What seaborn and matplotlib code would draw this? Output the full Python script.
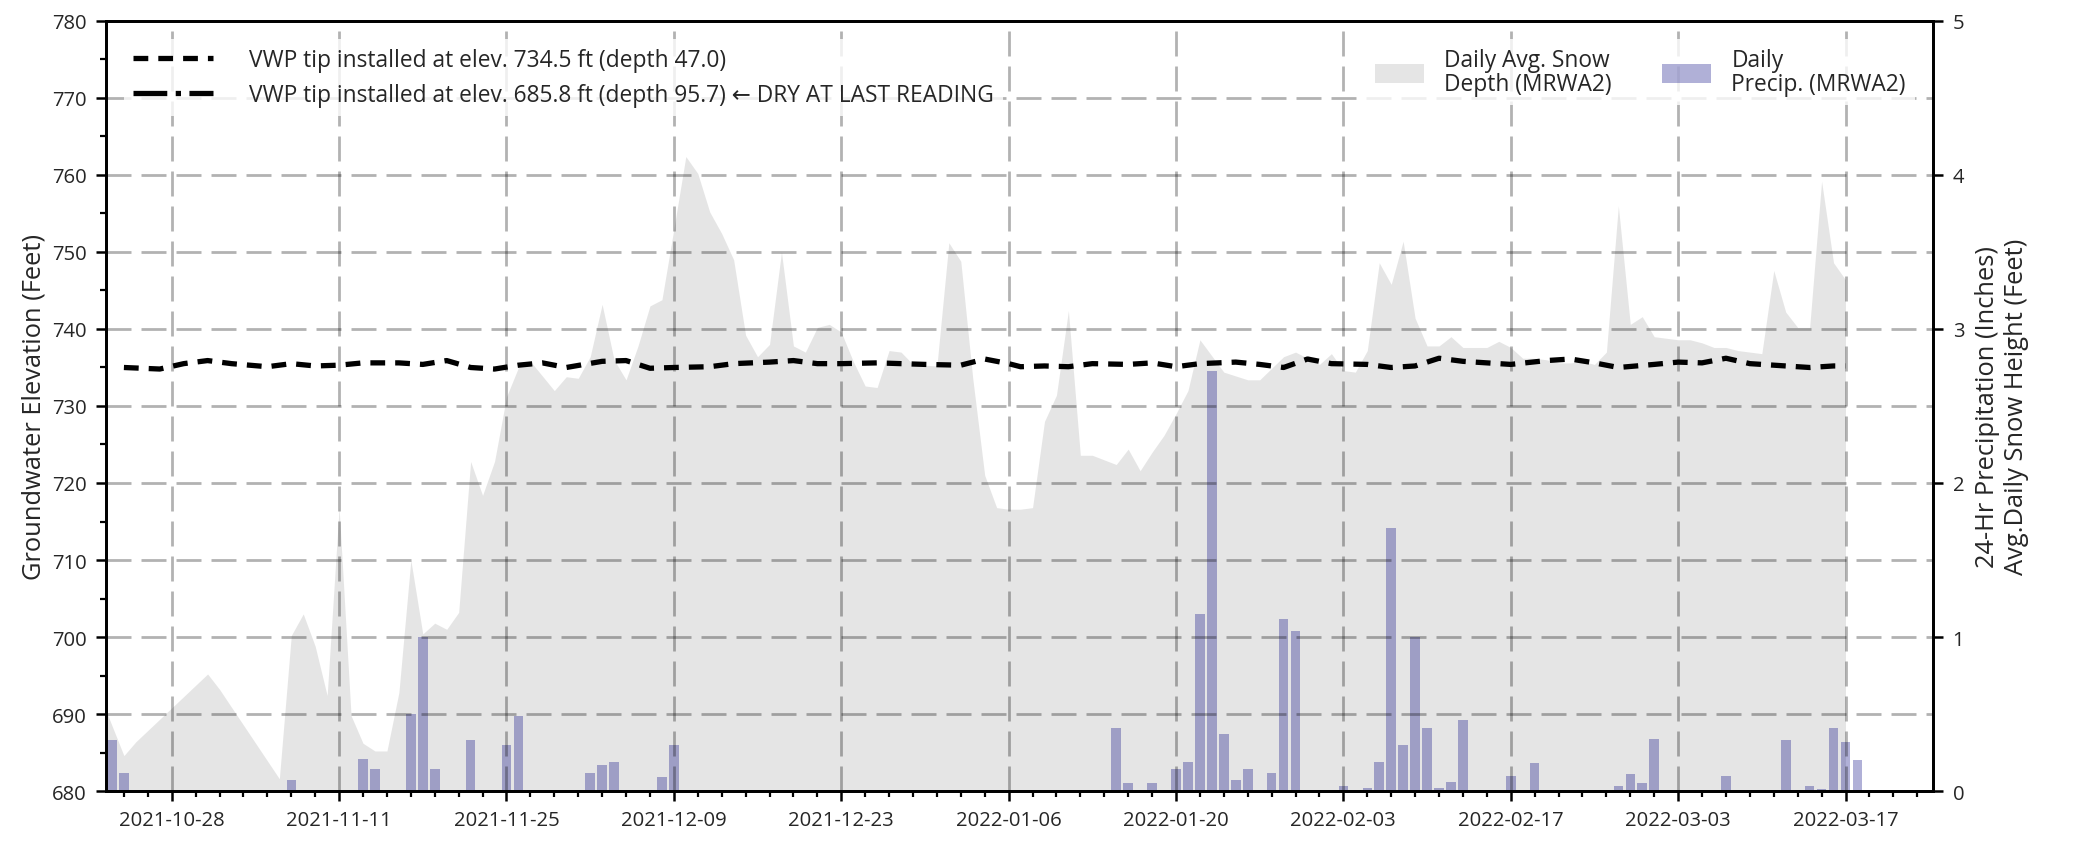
import numpy as np
import pandas as pd
import seaborn as sns
import matplotlib.pyplot as plt
import matplotlib.dates as mdates
from matplotlib.lines import Line2D
from matplotlib.patches import Patch

sns.set_style('ticks')
plt.rcParams['font.family'] = ['Open Sans', 'DejaVu Sans']

# groundwater elevation of the VWP tip at 734.5 ft
gw_dates = ['2021-10-24', '2021-10-27', '2021-10-29', '2021-10-31', '2021-11-02', '2021-11-05',
            '2021-11-07', '2021-11-09', '2021-11-11', '2021-11-13', '2021-11-16', '2021-11-18',
            '2021-11-20', '2021-11-22', '2021-11-24', '2021-11-26', '2021-11-28', '2021-11-30',
            '2021-12-03', '2021-12-05', '2021-12-07', '2021-12-09', '2021-12-12', '2021-12-14',
            '2021-12-17', '2021-12-19', '2021-12-21', '2021-12-23', '2021-12-26', '2021-12-28',
            '2021-12-30', '2022-01-02', '2022-01-04', '2022-01-06', '2022-01-07', '2022-01-09',
            '2022-01-11', '2022-01-13', '2022-01-16', '2022-01-18', '2022-01-20', '2022-01-22',
            '2022-01-25', '2022-01-27', '2022-01-29', '2022-01-31', '2022-02-02', '2022-02-05',
            '2022-02-07', '2022-02-09', '2022-02-11', '2022-02-13', '2022-02-15', '2022-02-17',
            '2022-02-20', '2022-02-22', '2022-02-24', '2022-02-26', '2022-03-01', '2022-03-03',
            '2022-03-05', '2022-03-07', '2022-03-09', '2022-03-11', '2022-03-14', '2022-03-16',
            '2022-03-17']
gw_elev = [735.0, 734.8, 735.5, 735.9, 735.5, 735.1,
           735.5, 735.2, 735.3, 735.6, 735.6, 735.4,
           735.9, 735.0, 734.8, 735.3, 735.6, 735.0,
           735.8, 735.9, 734.9, 735.0, 735.1, 735.5,
           735.7, 735.9, 735.5, 735.5, 735.6, 735.5,
           735.4, 735.3, 736.1, 735.5, 735.1, 735.2,
           735.1, 735.5, 735.4, 735.6, 735.1, 735.5,
           735.7, 735.4, 735.0, 736.1, 735.5, 735.4,
           735.0, 735.2, 736.2, 735.8, 735.6, 735.4,
           735.9, 736.1, 735.6, 735.0, 735.4, 735.7,
           735.6, 736.2, 735.5, 735.3, 735.0, 735.2,
           735.2]

# daily average snow depth, feet (right axis)
snow_dates = ['2021-10-22', '2021-10-24', '2021-10-25', '2021-10-31', '2021-11-01', '2021-11-06',
              '2021-11-07', '2021-11-08', '2021-11-09', '2021-11-10', '2021-11-11', '2021-11-12',
              '2021-11-13', '2021-11-14', '2021-11-15', '2021-11-16', '2021-11-17', '2021-11-18',
              '2021-11-19', '2021-11-20', '2021-11-21', '2021-11-22', '2021-11-23', '2021-11-24',
              '2021-11-25', '2021-11-26', '2021-11-27', '2021-11-29', '2021-11-30', '2021-12-01',
              '2021-12-02', '2021-12-03', '2021-12-04', '2021-12-05', '2021-12-06', '2021-12-07',
              '2021-12-08', '2021-12-09', '2021-12-10', '2021-12-11', '2021-12-12', '2021-12-13',
              '2021-12-14', '2021-12-15', '2021-12-16', '2021-12-17', '2021-12-18', '2021-12-19',
              '2021-12-20', '2021-12-21', '2021-12-22', '2021-12-23', '2021-12-24', '2021-12-25',
              '2021-12-26', '2021-12-27', '2021-12-28', '2021-12-29', '2021-12-31', '2022-01-01',
              '2022-01-02', '2022-01-03', '2022-01-04', '2022-01-05', '2022-01-06', '2022-01-07',
              '2022-01-08', '2022-01-09', '2022-01-10', '2022-01-11', '2022-01-12', '2022-01-13',
              '2022-01-14', '2022-01-15', '2022-01-16', '2022-01-17', '2022-01-18', '2022-01-19',
              '2022-01-20', '2022-01-21', '2022-01-22', '2022-01-24', '2022-01-26', '2022-01-27',
              '2022-01-29', '2022-01-30', '2022-02-01', '2022-02-02', '2022-02-03', '2022-02-04',
              '2022-02-05', '2022-02-06', '2022-02-07', '2022-02-08', '2022-02-09', '2022-02-10',
              '2022-02-11', '2022-02-12', '2022-02-13', '2022-02-14', '2022-02-15', '2022-02-16',
              '2022-02-17', '2022-02-18', '2022-02-19', '2022-02-20', '2022-02-21', '2022-02-22',
              '2022-02-23', '2022-02-24', '2022-02-25', '2022-02-26', '2022-02-27', '2022-02-28',
              '2022-03-01', '2022-03-02', '2022-03-03', '2022-03-04', '2022-03-05', '2022-03-06',
              '2022-03-07', '2022-03-08', '2022-03-09', '2022-03-10', '2022-03-11', '2022-03-12',
              '2022-03-13', '2022-03-14', '2022-03-15', '2022-03-16', '2022-03-17']
snow_depth = [0.62, 0.23, 0.32, 0.76, 0.66, 0.08,
              1.01, 1.15, 0.94, 0.62, 1.84, 0.49,
              0.31, 0.26, 0.26, 0.64, 1.50, 1.02,
              1.09, 1.05, 1.16, 2.14, 1.92, 2.14,
              2.56, 2.75, 2.79, 2.60, 2.69, 2.68,
              2.82, 3.16, 2.80, 2.67, 2.89, 3.15,
              3.19, 3.65, 4.12, 4.01, 3.76, 3.62,
              3.45, 2.96, 2.82, 2.90, 3.50, 2.89,
              2.85, 3.01, 3.03, 2.98, 2.79, 2.63,
              2.62, 2.86, 2.85, 2.77, 2.76, 3.56,
              3.44, 2.68, 2.05, 1.84, 1.83, 1.83,
              1.84, 2.40, 2.57, 3.12, 2.18, 2.18,
              2.15, 2.12, 2.22, 2.08, 2.20, 2.31,
              2.45, 2.60, 2.93, 2.72, 2.67, 2.67,
              2.82, 2.85, 2.77, 2.84, 2.73, 2.72,
              2.86, 3.43, 3.29, 3.57, 3.07, 2.89,
              2.89, 2.95, 2.88, 2.88, 2.88, 2.92,
              2.88, 2.81, 2.81, 2.80, 2.78, 2.78,
              2.79, 2.77, 2.85, 3.80, 3.03, 3.08,
              2.95, 2.94, 2.93, 2.93, 2.91, 2.88,
              2.88, 2.86, 2.85, 2.84, 3.38, 3.11,
              3.01, 3.01, 3.96, 3.43, 3.32]

# 24-hr precipitation, inches (right axis)
precip_dates = ['2021-10-23', '2021-10-24', '2021-11-07', '2021-11-13', '2021-11-14', '2021-11-17',
                '2021-11-18', '2021-11-19', '2021-11-22', '2021-11-25', '2021-11-26', '2021-12-02',
                '2021-12-03', '2021-12-04', '2021-12-08', '2021-12-09', '2022-01-15', '2022-01-16',
                '2022-01-18', '2022-01-20', '2022-01-21', '2022-01-22', '2022-01-23', '2022-01-24',
                '2022-01-25', '2022-01-26', '2022-01-28', '2022-01-29', '2022-01-30', '2022-02-03',
                '2022-02-05', '2022-02-06', '2022-02-07', '2022-02-08', '2022-02-09', '2022-02-10',
                '2022-02-11', '2022-02-12', '2022-02-13', '2022-02-17', '2022-02-19', '2022-02-26',
                '2022-02-27', '2022-02-28', '2022-03-01', '2022-03-07', '2022-03-12', '2022-03-14',
                '2022-03-15', '2022-03-16', '2022-03-17', '2022-03-18']
precip_in = [0.33, 0.12, 0.07, 0.21, 0.14, 0.50,
             1.00, 0.14, 0.33, 0.30, 0.49, 0.12,
             0.17, 0.19, 0.09, 0.30, 0.41, 0.05,
             0.05, 0.14, 0.19, 1.15, 2.73, 0.37,
             0.07, 0.14, 0.12, 1.12, 1.04, 0.03,
             0.02, 0.19, 1.71, 0.30, 1.00, 0.41,
             0.02, 0.06, 0.46, 0.10, 0.18, 0.03,
             0.11, 0.05, 0.34, 0.10, 0.33, 0.03,
             0.01, 0.41, 0.32, 0.20]

gw = pd.DataFrame({'date': pd.to_datetime(gw_dates), 'elev': gw_elev})
snow = pd.DataFrame({'date': pd.to_datetime(snow_dates), 'depth': snow_depth})
precip = pd.DataFrame({'date': pd.to_datetime(precip_dates), 'inches': precip_in})

fs = 7.3       # tick labels
lfs = 8.2      # legend text
gw_dash = (2.8, 1.9)

fig = plt.figure(figsize=(10.37, 4.225), dpi=200)
ax1 = fig.add_axes([0.0511, 0.0627, 0.8810, 0.9113])
ax2 = ax1.twinx()
ax1.set_zorder(ax2.get_zorder() + 1)
ax1.patch.set_visible(False)

# snow + precip on the right axis
ax2.fill_between(snow['date'], snow['depth'], 0, color='grey', alpha=0.2, lw=0)
ax2.bar(precip['date'], precip['inches'], width=0.8, color='navy', alpha=0.31, lw=0)
ax2.set_ylim(0, 5)
ax2.set_yticks(range(0, 6))
ax2.set_ylabel('24-Hr Precipitation (Inches)\nAvg.Daily Snow Height (Feet)', fontsize=9.2, labelpad=4)

# groundwater on the left axis
sns.lineplot(data=gw, x='date', y='elev', ax=ax1, color='black', lw=1.9)
ax1.lines[-1].set_dashes(gw_dash)
ax1.set_ylim(680, 780)
ax1.set_yticks(np.arange(680, 781, 10))
ax1.set_yticks(np.arange(685, 780, 10), minor=True)
ax1.set_xlim(pd.Timestamp('2021-10-22 12:00'), pd.Timestamp('2022-03-24 08:00'))
ax1.set_xticks(pd.date_range('2021-10-28', '2022-03-17', freq='14D'))
ax1.set_xticks(pd.date_range('2021-10-24', '2022-03-24', freq='2D'), minor=True)
ax1.xaxis.set_major_formatter(mdates.DateFormatter('%Y-%m-%d'))
ax1.set_xlabel('')
ax1.set_ylabel('Groundwater Elevation (Feet)', fontsize=9.2, labelpad=2)

ax1.grid(True, which='major', color='black', alpha=0.3, lw=1.0, ls=(0, (9, 3.6)))

for ax in (ax1, ax2):
    ax.tick_params(which='major', length=3.5, width=0.9, labelsize=fs, color='black')
    ax.tick_params(which='minor', length=2.0, width=0.8, color='black')
    for sp in ax.spines.values():
        sp.set_visible(True)
        sp.set_color('black')
        sp.set_linewidth(1.0)

vwp_handles = [Line2D([], [], color='black', lw=1.9, dashes=gw_dash),
               Line2D([], [], color='black', lw=1.9, ls='-.')]
leg1 = ax1.legend(vwp_handles,
                  ['VWP tip installed at elev. 734.5 ft (depth 47.0)',
                   'VWP tip installed at elev. 685.8 ft (depth 95.7) \u2190 DRY AT LAST READING'],
                  loc='upper left', fontsize=lfs, frameon=True, edgecolor='none', framealpha=0.8,
                  handlelength=3.5, handletextpad=1.6, labelspacing=0.45, borderaxespad=0.8)
ax1.add_artist(leg1)
met_handles = [Patch(facecolor='grey', alpha=0.2, lw=0),
               Patch(facecolor='navy', alpha=0.31, lw=0)]
leg2 = ax1.legend(met_handles, ['Daily Avg. Snow\nDepth (MRWA2)', 'Daily\nPrecip. (MRWA2)'],
                  loc='upper right', ncol=2, fontsize=lfs, frameon=True, edgecolor='none',
                  framealpha=0.8, handlelength=2.15, handleheight=0.9, handletextpad=0.9,
                  columnspacing=2.2, borderaxespad=0.8)
for t in leg2.get_texts():
    t.set_linespacing(1.0)

fig.savefig('out.png', dpi=200)
